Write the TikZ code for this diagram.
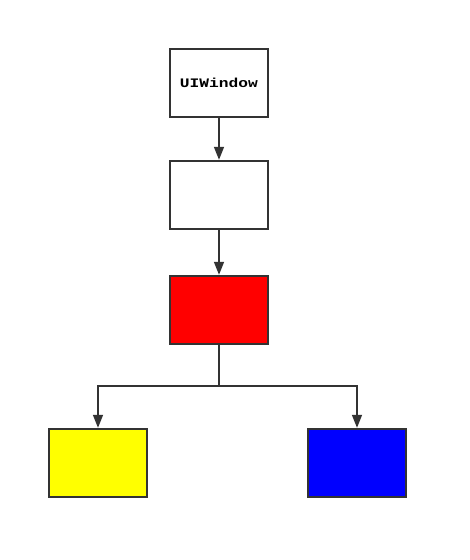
\documentclass[tikz,border=0pt]{standalone}
\usepackage{fontspec}
\newfontfamily\monobold{Liberation Mono}[BoldFont={* Bold}]
\usetikzlibrary{arrows.meta}
\definecolor{linegray}{HTML}{333333}
\definecolor{boxred}{HTML}{FF0000}
\definecolor{boxyellow}{HTML}{FFFF00}
\definecolor{boxblue}{HTML}{0000FF}
\tikzset{
  box/.style={draw=linegray, line width=1.6pt, minimum width=98.4pt, minimum height=68.4pt, inner sep=0pt, outer sep=0pt},
  conn/.style={draw=linegray, line width=1.5pt},
  arr/.style={conn, -{Triangle[length=13pt,width=10pt]}, shorten >=1pt},
}
\begin{document}
\begin{tikzpicture}[x=1pt,y=-1pt]
\useasboundingbox (0,0) rectangle (469,560);
\fill[white] (0,0) rectangle (469,560);
\node[box] (w) at (219,83) {\monobold\bfseries\fontsize{13}{15}\selectfont\scalebox{1.25}[1]{UIWindow}};
\node[box] (v) at (219,195) {};
\node[box, fill=boxred] (r) at (219,310) {};
\node[box, fill=boxyellow] (yl) at (98,463) {};
\node[box, fill=boxblue] (bl) at (357,463) {};
\coordinate (j) at (219,386);
\draw[arr] (w) -- (v);
\draw[arr] (v) -- (r);
\draw[conn] (r) -- (j);
\draw[arr] (j) -| (yl);
\draw[arr] (j) -| (bl);
\end{tikzpicture}
\end{document}
